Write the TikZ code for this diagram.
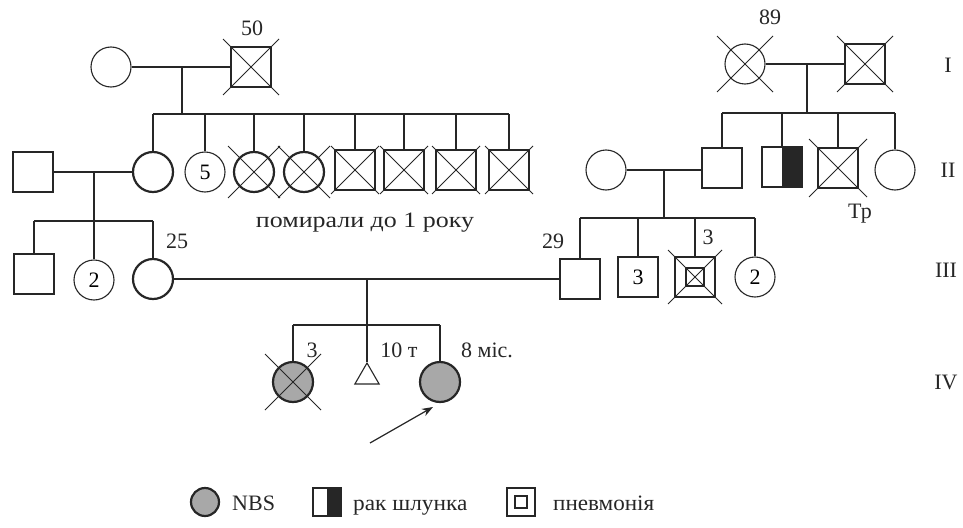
\documentclass[tikz,border=0pt]{standalone}
\usepackage{fontspec}
\setmainfont{Liberation Serif}
\usetikzlibrary{arrows.meta,calc,shapes.geometric}
\definecolor{ink}{RGB}{38,38,38}
\definecolor{nbs}{RGB}{168,168,168}

\tikzset{
  fem/.style={circle,draw=ink,minimum size=40pt,inner sep=0pt,line width=1.1pt},
  mal/.style={rectangle,draw=ink,minimum size=40pt,inner sep=0pt,line width=1.1pt},
  bold/.style={line width=2.2pt},
  lin/.style={draw=ink,line width=1.1pt},
  blin/.style={draw=ink,line width=2.2pt},
  lbl/.style={text=ink,inner sep=0pt},
  cancer/.style={path picture={\fill[ink] (path picture bounding box.north) rectangle (path picture bounding box.south east);}}
}
\newcommand{\deadcross}[2]{%
  \draw[ink,line width=0.9pt] ($(#1.center)+(-#2,-#2)$) -- ($(#1.center)+(#2,#2)$)
    ($(#1.center)+(-#2,#2)$) -- ($(#1.center)+(#2,-#2)$);}

\begin{document}
\begin{tikzpicture}[x=1pt,y=-1pt,font=\fontsize{22}{26}\selectfont]
  \useasboundingbox (0,0) rectangle (963,527);

  % generation I, left
  \node[fem] (gIa) at (111,67) {};
  \node[mal] (gIb) at (251,67) {};
  \deadcross{gIb}{28}
  \node[lbl] (a50) at (252,28) {50};
  \coordinate (mIa) at (182,67);
  \coordinate (sIIa) at (182,114);
  \draw[lin] (gIa) -- (gIb);
  \draw[blin] (mIa) -- (sIIa);

  % generation II, left
  \node[fem,bold] (m) at (153,172) {};
  \node[fem] (s5) at (205,172) {5};
  \node[fem,bold] (d1) at (254,172) {};
  \node[fem,bold] (d2) at (304,172) {};
  \node[mal,bold] (d3) at (355,170) {};
  \node[mal,bold] (d4) at (404,170) {};
  \node[mal,bold] (d5) at (456,170) {};
  \node[mal,bold] (d6) at (509,170) {};
  \deadcross{d1}{26}
  \deadcross{d2}{26}
  \foreach \k in {d3,d4,d5,d6} {\deadcross{\k}{24}}
  \draw[blin] (m.north|-sIIa) -- (d6.north|-sIIa);
  \foreach \k in {m,d1,d2,d3,d4,d5,d6} {\draw[blin] (\k.north|-sIIa) -- (\k.north);}
  \draw[lin] (s5.north|-sIIa) -- (s5.north);
  \node[lbl,anchor=base] (dead) at (365,227) {\addfontfeature{FakeStretch=1.18}помирали до 1 року};

  \node[mal] (f0) at (33,172) {};
  \coordinate (mIIa) at (94,172);
  \coordinate (sIIIa) at (94,221);
  \draw[lin] (f0) -- (mIIa);
  \draw[blin] (mIIa) -- (m);
  \draw[blin] (mIIa) -- (sIIIa);

  % generation III, left
  \node[mal] (c1) at (34,274) {};
  \node[fem] (c2) at (94,280) {2};
  \node[fem,bold] (p1) at (153,279) {};
  \node[lbl] (a25) at (177,241) {25};
  \draw[blin] (c1.north|-sIIIa) -- (p1.north|-sIIIa);
  \draw[lin] (c1.north|-sIIIa) -- (c1.north);
  \draw[lin] (c2.north|-sIIIa) -- (c2.north);
  \draw[blin] (p1.north|-sIIIa) -- (p1.north);

  % generation I, right
  \node[fem] (gIc) at (745,64) {};
  \node[mal] (gId) at (865,64) {};
  \deadcross{gIc}{28}
  \deadcross{gId}{28}
  \node[lbl] (a89) at (770,17) {89};
  \coordinate (mIb) at (807,64);
  \coordinate (sIIb) at (807,113);
  \draw[blin] (gIc) -- (mIb);
  \draw[lin] (mIb) -- (gId);
  \draw[blin] (mIb) -- (sIIb);

  % generation II, right
  \node[mal] (gf) at (722,168) {};
  \node[mal,cancer] (ca) at (782,167) {};
  \node[mal] (tr) at (838,168) {};
  \node[fem] (au) at (895,170) {};
  \deadcross{tr}{29}
  \node[lbl] (aTr) at (860,214) {Тр};
  \draw[blin] (gf.north|-sIIb) -- (sIIb);
  \draw[lin] (sIIb) -- (au.north|-sIIb);
  \draw[blin] (gf.north|-sIIb) -- (gf.north);
  \draw[blin] (ca.north|-sIIb) -- (ca.north);
  \draw[lin] (tr.north|-sIIb) -- (tr.north);
  \draw[lin] (au.north|-sIIb) -- (au.north);

  \node[fem] (gm) at (606,170) {};
  \coordinate (mIIb) at (664,170);
  \coordinate (sIIIb) at (664,218);
  \draw[lin] (gm) -- (mIIb);
  \draw[blin] (mIIb) -- (gf.west|-mIIb);
  \draw[blin] (mIIb) -- (sIIIb);

  % generation III, right
  \node[mal,bold] (p2) at (580,279) {};
  \node[mal] (u3) at (638,277) {3};
  \node[mal,bold] (pn) at (695,277) {};
  \node[mal,bold,minimum size=18pt] (pni) at (pn.center) {};
  \deadcross{pn}{27}
  \node[fem] (u2) at (755,277) {2};
  \node[lbl] (a29) at (553,241) {29};
  \node[lbl] (a3) at (708,237) {3};
  \draw[blin] (p2.north|-sIIIb) -- (sIIIb);
  \draw[lin] (sIIIb) -- (u2.north|-sIIIb);
  \draw[blin] (p2.north|-sIIIb) -- (p2.north);
  \foreach \k in {u3,pn,u2} {\draw[lin] (\k.north|-sIIIb) -- (\k.north);}

  \draw[blin] (p1) -- (p2);
  \coordinate (mIII) at (367,279);
  \coordinate (sIV) at (367,325);
  \draw[blin] (mIII) -- (sIV);

  % generation IV
  \node[fem,bold,fill=nbs] (k1) at (293,382) {};
  \deadcross{k1}{28}
  \node[draw=ink,line width=1.1pt,regular polygon,regular polygon sides=3,minimum size=28pt,inner sep=0pt] (k2) at (367,377) {};
  \node[fem,bold,fill=nbs] (pr) at (440,382) {};
  \node[lbl,anchor=base] (a3b) at (312,357) {3};
  \node[lbl,anchor=base] (a10) at (399,357) {10 т};
  \node[lbl,anchor=base] (a8) at (487,357) {8 міс.};
  \draw[blin] (k1.north|-sIV) -- (pr.north|-sIV);
  \foreach \k in {k1,k2,pr} {\draw[blin] (\k.north|-sIV) -- (\k.north);}
  \coordinate (ar) at (370,443);
  \coordinate (tip) at (433,407);
  \draw[ink,line width=1.2pt,-{Stealth[length=11pt,width=8pt]}] (ar) -- (tip);

  % generations
  \node[lbl] (rI) at (948,65) {I};
  \node[lbl] (rII) at (948,170) {II};
  \node[lbl] (rIII) at (946,270) {III};
  \node[lbl] (rIV) at (946,382) {IV};

  % legend
  \node[fem,bold,fill=nbs,minimum size=28pt] (lg1) at (205,502) {};
  \node[lbl,anchor=base west] (lt1) at (232,510) {NBS};
  \node[mal,cancer,minimum size=28pt] (lg2) at (327,502) {};
  \node[lbl,anchor=base west] (lt2) at (353,510) {\addfontfeature{FakeStretch=1.06}рак шлунка};
  \node[mal,minimum size=28pt] (lg3) at (521,502) {};
  \node[mal,bold,minimum size=12pt] (lg3i) at (lg3.center) {};
  \node[lbl,anchor=base west] (lt3) at (553,510) {\addfontfeature{FakeStretch=1.05}пневмонія};
\end{tikzpicture}
\end{document}
